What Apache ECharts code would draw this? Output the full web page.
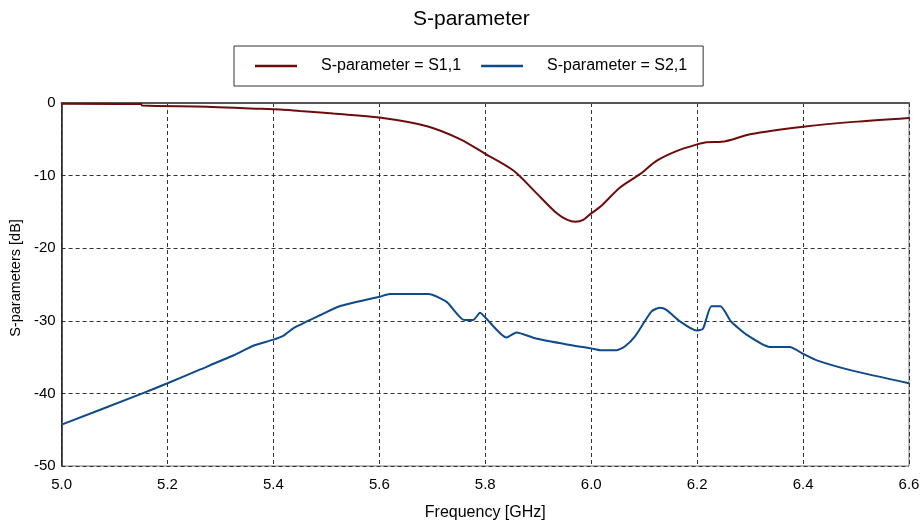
<!DOCTYPE html>
<html>
<head>
<meta charset="utf-8">
<script src="https://cdn.jsdelivr.net/npm/echarts@6/dist/echarts.min.js"></script>
<style>
  html, body { margin: 0; padding: 0; background: #fff; }
  #chart { width: 923px; height: 526px; }
</style>
</head>
<body>
<div id="chart"></div>
<script>
// S11 reflection coefficient (frequency in GHz, magnitude in dB)
const s11Freq = [5.0, 5.15, 5.152, 5.275, 5.357, 5.413, 5.45, 5.489, 5.513, 5.6, 5.69, 5.753, 5.8, 5.853,
                 5.891, 5.935, 5.955, 5.97, 5.985, 6.0, 6.017, 6.055, 6.092, 6.124, 6.162, 6.2, 6.218, 6.246,
                 6.3, 6.4, 6.495, 6.6];
const s11Db   = [-0.1, -0.15, -0.35, -0.5, -0.75, -0.9, -1.1, -1.3, -1.45, -2.0, -3.2, -5.0, -7.0, -9.3,
                 -12.0, -15.2, -16.1, -16.35, -16.1, -15.2, -14.3, -11.6, -9.8, -7.95, -6.6, -5.7, -5.4, -5.35,
                 -4.3, -3.27, -2.6, -2.05];

// S21 transmission coefficient
const s21Freq = [5.0, 5.149, 5.2, 5.262, 5.325, 5.363, 5.4, 5.42, 5.438, 5.489, 5.525, 5.6, 5.62, 5.693,
                 5.727, 5.76, 5.777, 5.79, 5.8, 5.84, 5.859, 5.894, 5.954, 6.0, 6.017, 6.048, 6.064, 6.083,
                 6.114, 6.13, 6.142, 6.168, 6.199, 6.211, 6.227, 6.244, 6.264, 6.293, 6.337, 6.375, 6.4,
                 6.426, 6.495, 6.6];
const s21Db   = [-44.3, -40.1, -38.6, -36.7, -34.75, -33.4, -32.6, -32.0, -31.0, -29.2, -28.0, -26.7, -26.3, -26.3,
                 -27.4, -29.9, -29.9, -28.9, -29.55, -32.3, -31.6, -32.4, -33.25, -33.8, -34.05, -34.05, -33.5, -32.1,
                 -28.7, -28.2, -28.5, -30.1, -31.35, -31.1, -28.0, -28.0, -30.1, -31.9, -33.6, -33.6, -34.55,
                 -35.45, -36.9, -38.6];

const seriesNames = ['S-parameter = S1,1', 'S-parameter = S2,1'];
const xTicks = { min: 5.0, max: 6.6, step: 0.2 };
const yTicks = { min: -50, max: 0, step: 10 };

const pairs = (xs, ys) => xs.map((x, i) => [x, ys[i]]);

const chart = echarts.init(document.getElementById('chart'), null, { renderer: 'canvas' });
const font = 'Liberation Sans, Arial, sans-serif';
const gridLine = { show: true, lineStyle: { color: '#333', type: [4, 3], width: 1 } };

chart.setOption({
  animation: false,
  backgroundColor: '#ffffff',
  textStyle: { fontFamily: font },
  title: {
    text: 'S-parameter',
    left: 408,
    top: 4,
    textStyle: { fontFamily: font, fontSize: 21, fontWeight: 'normal', color: '#000' }
  },
  legend: {
    top: 46,
    left: 234,
    width: 480,
    icon: 'rect',
    padding: [12, 16, 12, 21],
    itemGap: 20,
    itemWidth: 42,
    itemHeight: 2.5,
    borderColor: '#333',
    borderWidth: 1,
    textStyle: { fontFamily: font, fontSize: 16, color: '#000', padding: [0, 0, 0, 19] },
    data: seriesNames
  },
  grid: {
    left: 61, right: 14, top: 103, bottom: 56,
    show: true,
    borderColor: '#777',
    borderWidth: 1
  },
  xAxis: {
    type: 'value',
    min: xTicks.min, max: xTicks.max, interval: xTicks.step,
    name: 'Frequency [GHz]',
    nameLocation: 'middle',
    nameGap: 39,
    nameTextStyle: { fontFamily: font, fontSize: 16, color: '#000' },
    axisLine: { lineStyle: { color: '#555', width: 2 } },
    axisTick: { show: false },
    axisLabel: { fontFamily: font, fontSize: 15, color: '#000', margin: 11,
                 formatter: v => v.toFixed(1) },
    splitLine: gridLine
  },
  yAxis: {
    type: 'value',
    min: yTicks.min, max: yTicks.max, interval: yTicks.step,
    name: 'S-parameters [dB]',
    nameLocation: 'middle',
    nameGap: 38,
    nameTextStyle: { fontFamily: font, fontSize: 14.5, color: '#000', padding: [0, 0, 0, 13] },
    axisLine: { show: true, lineStyle: { color: '#222', width: 1.5 } },
    axisTick: { show: false },
    axisLabel: { fontFamily: font, fontSize: 15, color: '#000', margin: 6 },
    splitLine: gridLine
  },
  series: [
    {
      name: seriesNames[0],
      type: 'line',
      data: pairs(s11Freq, s11Db),
      symbol: 'none',
      smooth: 0.3,
      lineStyle: { color: '#6e0c0c', width: 2 },
      itemStyle: { color: '#6e0c0c' }
    },
    {
      name: seriesNames[1],
      type: 'line',
      data: pairs(s21Freq, s21Db),
      symbol: 'none',
      smooth: 0.2,
      lineStyle: { color: '#0f4a8a', width: 2 },
      itemStyle: { color: '#0f4a8a' }
    }
  ]
});
</script>
</body>
</html>
